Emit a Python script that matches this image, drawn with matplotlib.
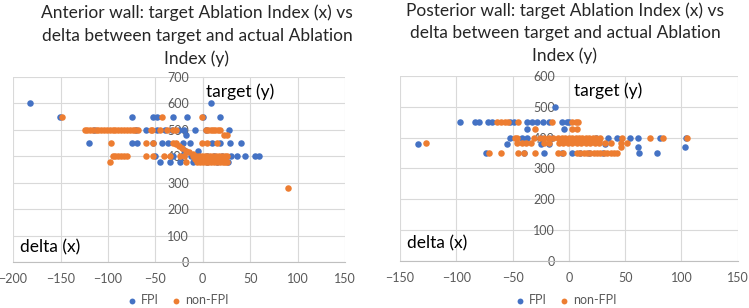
import numpy as np
import matplotlib.pyplot as plt

plt.rcParams['font.family'] = ['Lato', 'DejaVu Sans']

# anterior wall: delta (x), target (y)
ant_fpi_x = [-182, 9,
             -151, -75, -52, -48, -31, -17, 0, 18,
             -115, -70, -60, -48, -40, -32, -25, -20, -8, 3, 28,
             -18,
             -120, -75, -69, -52, -43, -37, -21, -13, 10, 18, 29, 40,
             -20, -5,
             -50, -31, -22, -12, -5, 5, 12, 20, 30, 36, 45, 55, 59,
             -45, -34, -24, -10, 5, 15, 27]
ant_fpi_y = [600, 600,
             550, 550, 550, 550, 550, 550, 550, 550,
             500, 500, 500, 500, 500, 500, 500, 500, 500, 500, 500,
             480,
             450, 450, 450, 450, 450, 450, 450, 450, 450, 450, 450, 450,
             425, 420,
             400, 400, 400, 400, 400, 400, 400, 400, 400, 400, 400, 400, 400,
             380, 380, 380, 380, 380, 380, 380]

ant_non_x = [-148, -43, -1,
             -124, -122, -119, -116, -113, -110, -107, -104, -101, -98, -95, -92, -89,
             -86, -83, -80, -77, -74, -71, -68, -55, -53, -45, -38, -31, -28,
             3, 6, 9, 11, 13, 16, 18,
             22, 26,
             -97, -60, -52, -31, -28, -1, 5, 15,
             -28, -25, -22, -18, -14, -10,
             -95, -92, -89, -86, -83, -80, -60, -52, -41, -35, -24, -20, -10, -7, -4,
             -1, 2, 5, 8, 11, 14, 17, 20, 23, 26,
             -8, -4, 0, 4, 8, 12, 16, 20, 24,
             -98, -18, -6, -3, 0, 3, 6, 9, 12, 15, 18, 21, 24, 26,
             90]
ant_non_y = [550, 550, 550,
             500, 500, 500, 500, 500, 500, 500, 500, 500, 500, 500, 500, 500,
             500, 500, 500, 500, 500, 500, 500, 500, 500, 500, 500, 500, 500,
             500, 500, 500, 500, 500, 500, 500,
             480, 480,
             450, 450, 450, 450, 450, 450, 450, 450,
             445, 438, 430, 422, 415, 410,
             400, 400, 400, 400, 400, 400, 400, 400, 400, 400, 400, 400, 400, 400, 400,
             400, 400, 400, 400, 400, 400, 400, 400, 400, 400,
             390, 390, 390, 390, 390, 390, 390, 390, 390,
             380, 380, 380, 380, 380, 380, 380, 380, 380, 380, 380, 380, 380, 380,
             280]

# posterior wall
post_fpi_x = [-12,
              -97, -83, -80, -72, -68, -52, -49, -37, -33, -28, -23, -18, -6, -2, 0,
              -37, -4,
              -52, -42, -37, -25, -15, 24, 35, 43, 54, 61, 81, 104,
              -134, -55, -25, -18, 32,
              61, 103,
              -74, -40, -22, -6, 3, 10, 18, 30, 62, 78]
post_fpi_y = [500,
              450, 450, 450, 450, 450, 450, 450, 450, 450, 450, 450, 450, 450, 450, 450,
              427, 427,
              400, 400, 400, 400, 400, 400, 400, 400, 400, 400, 400, 400,
              380, 380, 380, 380, 380,
              370, 370,
              350, 350, 350, 350, 350, 350, 350, 350, 350, 350]

post_non_x = [-64, -60, -57, -54, -45, -15, 3, 6, 8,
              -30, 3, 7,
              -48, -46, -31, -26, -22, -18, -14, -10, -6, -3, 0, 3, 6, 9, 12, 15, 18,
              21, 24, 28, 47, 72, 84, 105,
              -5, -1, 3, 7, 11, 15, 19, 23, 27,
              -127, -46, -42, -38, -34, -22, -18, -9, -5, -1, 3, 7, 11, 15, 19, 23, 27,
              32, 37, 46, 52,
              46,
              -71, -60, -45, -40, -30, -10, -5, 7, 10, 13, 16, 19, 22, 25, 28, 31, 34,
              37, 40, 43]
post_non_y = [450, 450, 450, 450, 450, 450, 450, 450, 450,
              427, 427, 427,
              400, 400, 400, 400, 400, 400, 400, 400, 400, 400, 400, 400, 400, 400, 400,
              400, 400, 400, 400, 400, 400, 400, 400, 400,
              390, 390, 390, 390, 390, 390, 390, 390, 390,
              381, 381, 381, 381, 381, 381, 381, 381, 381, 381, 381, 381, 381, 381, 381,
              381, 381, 381, 381, 381, 381,
              370,
              350, 350, 350, 350, 350, 350, 350, 350, 350, 350, 350, 350, 350, 350, 350,
              350, 350, 350, 350, 350]

blue = '#4472C4'
orange = '#ED7D31'
grey_txt = '#595959'

fig = plt.figure(figsize=(7.49, 3.08), dpi=100)
ax1 = fig.add_axes([0.0175, 0.149, 0.443, 0.601])
ax2 = fig.add_axes([0.534, 0.1536, 0.451, 0.5997])


def style(ax, xlim, ylim, yticks):
    ax.set_xlim(*xlim)
    ax.set_ylim(*ylim)
    ax.set_xticks(np.arange(xlim[0], xlim[1] + 1, 50))
    ax.set_yticks(yticks)
    ax.set_axisbelow(True)
    ax.grid(True, color='#D9D9D9', lw=0.8)
    for s in ['top', 'right']:
        ax.spines[s].set_visible(False)
    ax.spines['left'].set_position(('data', 0))
    ax.spines['left'].set_color('#D9D9D9')
    ax.spines['bottom'].set_color('#BFBFBF')
    ax.tick_params(length=0, labelsize=9, labelcolor=grey_txt)
    ax.tick_params(axis='x', pad=8)
    ax.tick_params(axis='y', pad=10)


legend_x = [178 / 749, 566 / 749]
for ax, lx, fx, fy, nx, ny in [(ax1, legend_x[0], ant_fpi_x, ant_fpi_y, ant_non_x, ant_non_y),
                               (ax2, legend_x[1], post_fpi_x, post_fpi_y, post_non_x, post_non_y)]:
    ax.scatter(fx, fy, s=22, color=blue, lw=0, label='FPI', zorder=3)
    ax.scatter(nx, ny, s=22, color=orange, lw=0, label='non-FPI', zorder=3)
    ax.legend(loc='center', bbox_to_anchor=(lx, 1 - 300 / 308), bbox_transform=fig.transFigure,
              ncol=2, frameon=False, handlelength=0.8, handletextpad=0.3, columnspacing=1.0,
              fontsize=9, labelcolor=grey_txt, markerscale=0.9, borderpad=0.1)

style(ax1, (-200, 150), (0, 700), np.arange(0, 701, 100))
style(ax2, (-150, 150), (0, 600), np.arange(0, 601, 100))

ax1.text(0.02, 0.05, 'delta (x)', transform=ax1.transAxes, fontsize=12.5, color='black')
ax1.text(0.58, 0.89, 'target (y)', transform=ax1.transAxes, fontsize=12.5, color='black')
ax2.text(0.02, 0.065, 'delta (x)', transform=ax2.transAxes, fontsize=12.5, color='black')
ax2.text(0.515, 0.89, 'target (y)', transform=ax2.transAxes, fontsize=12.5, color='black')

fig.text(197 / 749, 1 - 36 / 308,
         'Anterior wall: target Ablation Index (x) vs\ndelta between target and actual Ablation\nIndex (y)',
         ha='center', va='center', fontsize=12.5, color='#262626', linespacing=1.5)
fig.text(565 / 749, 1 - 33 / 308,
         'Posterior wall: target Ablation Index (x) vs\ndelta between target and actual Ablation\nIndex (y)',
         ha='center', va='center', fontsize=12.5, color='#262626', linespacing=1.45)

fig.savefig('out.png', dpi=100)
